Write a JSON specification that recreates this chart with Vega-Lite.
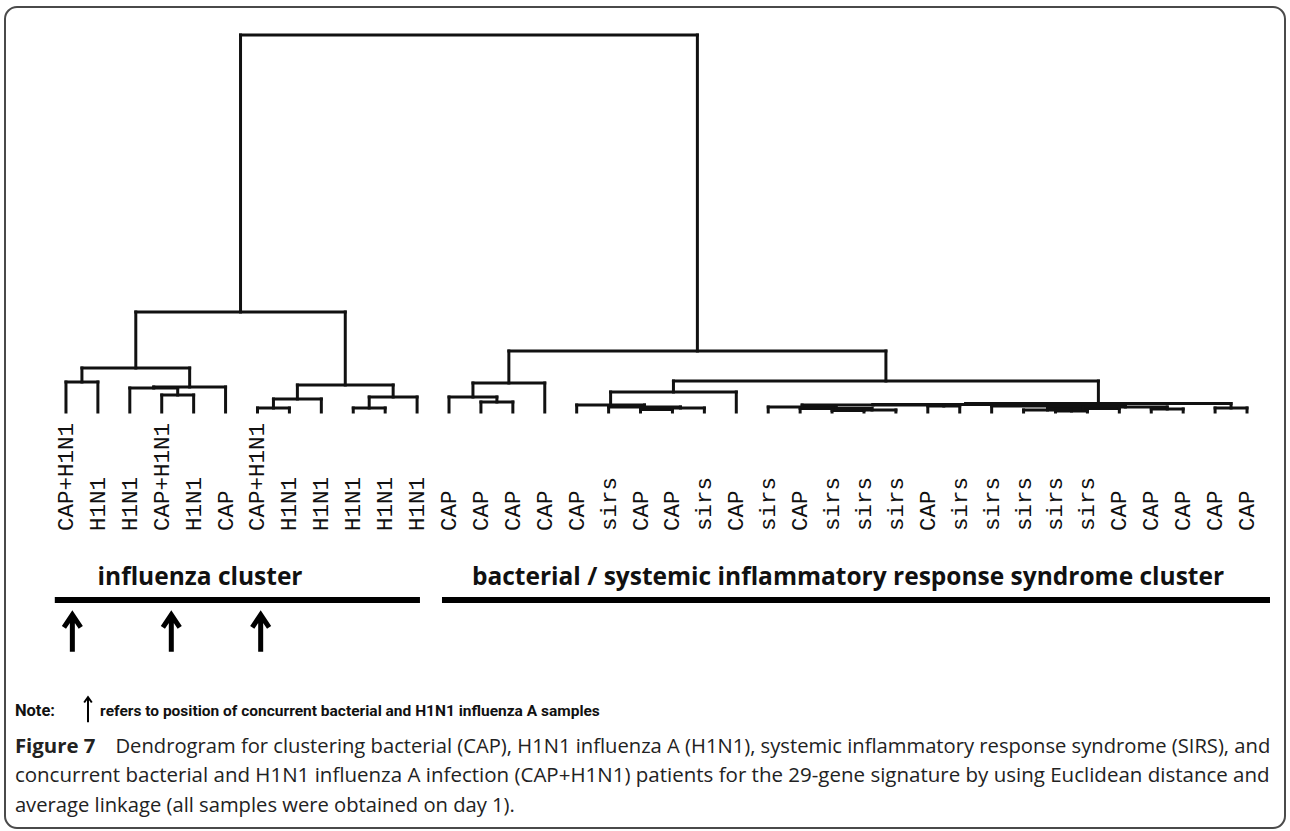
{
  "$schema": "https://vega.github.io/schema/vega-lite/v6.json",
  "width": 1290,
  "height": 831,
  "autosize": {"type": "fit", "contains": "padding"},
  "padding": {"left": 5, "top": 7, "right": 5, "bottom": 3},
  "background": "white",
  "config": {"view": {"stroke": "#4a4a4a", "strokeWidth": 2, "cornerRadius": 12}},
  "datasets": {
    "nodes": [
      {"xl": 0, "xr": 1, "hl": 0, "hr": 0, "h": 3.0},
      {"xl": 3, "xr": 4, "hl": 0, "hr": 0, "h": 1.7},
      {"xl": 2, "xr": 3.5, "hl": 0, "hr": 1.7, "h": 2.4},
      {"xl": 2.75, "xr": 5, "hl": 2.4, "hr": 0, "h": 2.5},
      {"xl": 0.5, "xr": 3.875, "hl": 3.0, "hr": 2.5, "h": 4.4},
      {"xl": 6, "xr": 7, "hl": 0, "hr": 0, "h": 0.4},
      {"xl": 6.5, "xr": 8, "hl": 0.4, "hr": 0, "h": 1.3},
      {"xl": 9, "xr": 10, "hl": 0, "hr": 0, "h": 0.4},
      {"xl": 9.5, "xr": 11, "hl": 0.4, "hr": 0, "h": 1.5},
      {"xl": 7.25, "xr": 10.25, "hl": 1.3, "hr": 1.5, "h": 2.7},
      {"xl": 2.1875, "xr": 8.75, "hl": 4.4, "hr": 2.7, "h": 10.0},
      {"xl": 13, "xr": 14, "hl": 0, "hr": 0, "h": 1.0},
      {"xl": 12, "xr": 13.5, "hl": 0, "hr": 1.0, "h": 1.5},
      {"xl": 12.75, "xr": 15, "hl": 1.5, "hr": 0, "h": 2.9},
      {"xl": 18, "xr": 19, "hl": 0, "hr": 0, "h": 0.25},
      {"xl": 18.5, "xr": 20, "hl": 0.25, "hr": 0, "h": 0.4},
      {"xl": 17, "xr": 19.25, "hl": 0, "hr": 0.4, "h": 0.5},
      {"xl": 16, "xr": 18.125, "hl": 0, "hr": 0.5, "h": 0.7},
      {"xl": 17.0625, "xr": 21, "hl": 0.7, "hr": 0, "h": 2.0},
      {"xl": 24, "xr": 25, "hl": 0, "hr": 0, "h": 0.15},
      {"xl": 24.5, "xr": 26, "hl": 0.15, "hr": 0, "h": 0.2},
      {"xl": 23, "xr": 25.25, "hl": 0, "hr": 0.2, "h": 0.35},
      {"xl": 22, "xr": 24.125, "hl": 0, "hr": 0.35, "h": 0.5},
      {"xl": 27, "xr": 28, "hl": 0, "hr": 0, "h": 0.6},
      {"xl": 23.0625, "xr": 27.5, "hl": 0.5, "hr": 0.6, "h": 0.7},
      {"xl": 31, "xr": 32, "hl": 0, "hr": 0, "h": 0.1},
      {"xl": 30, "xr": 31.5, "hl": 0, "hr": 0.1, "h": 0.2},
      {"xl": 30.75, "xr": 33, "hl": 0.2, "hr": 0, "h": 0.35},
      {"xl": 34, "xr": 35, "hl": 0, "hr": 0, "h": 0.3},
      {"xl": 31.875, "xr": 34.5, "hl": 0.35, "hr": 0.3, "h": 0.5},
      {"xl": 29, "xr": 33.1875, "hl": 0, "hr": 0.5, "h": 0.6},
      {"xl": 25.28125, "xr": 31.09375, "hl": 0.7, "hr": 0.6, "h": 0.75},
      {"xl": 36, "xr": 37, "hl": 0, "hr": 0, "h": 0.4},
      {"xl": 28.1875, "xr": 36.5, "hl": 0.75, "hr": 0.4, "h": 0.85},
      {"xl": 19.03125, "xr": 32.34375, "hl": 2.0, "hr": 0.85, "h": 3.1},
      {"xl": 13.875, "xr": 25.6875, "hl": 2.9, "hr": 3.1, "h": 6.1},
      {"xl": 5.46875, "xr": 19.78125, "hl": 10.0, "hr": 6.1, "h": 37.7}
    ],
    "leaves": [
      {"i": 0, "label": "CAP+H1N1"}, {"i": 1, "label": "H1N1"}, {"i": 2, "label": "H1N1"},
      {"i": 3, "label": "CAP+H1N1"}, {"i": 4, "label": "H1N1"}, {"i": 5, "label": "CAP"},
      {"i": 6, "label": "CAP+H1N1"}, {"i": 7, "label": "H1N1"}, {"i": 8, "label": "H1N1"},
      {"i": 9, "label": "H1N1"}, {"i": 10, "label": "H1N1"}, {"i": 11, "label": "H1N1"},
      {"i": 12, "label": "CAP"}, {"i": 13, "label": "CAP"}, {"i": 14, "label": "CAP"},
      {"i": 15, "label": "CAP"}, {"i": 16, "label": "CAP"}, {"i": 17, "label": "sirs"},
      {"i": 18, "label": "CAP"}, {"i": 19, "label": "CAP"}, {"i": 20, "label": "sirs"},
      {"i": 21, "label": "CAP"}, {"i": 22, "label": "sirs"}, {"i": 23, "label": "CAP"},
      {"i": 24, "label": "sirs"}, {"i": 25, "label": "sirs"}, {"i": 26, "label": "sirs"},
      {"i": 27, "label": "CAP"}, {"i": 28, "label": "sirs"}, {"i": 29, "label": "sirs"},
      {"i": 30, "label": "sirs"}, {"i": 31, "label": "sirs"}, {"i": 32, "label": "sirs"},
      {"i": 33, "label": "CAP"}, {"i": 34, "label": "CAP"}, {"i": 35, "label": "CAP"},
      {"i": 36, "label": "CAP"}, {"i": 37, "label": "CAP"}
    ],
    "clusters": [
      {"text": "influenza cluster", "start": -0.35, "end": 11.09, "mid": 4.2},
      {"text": "bacterial / systemic inflammatory response syndrome cluster", "start": 11.78, "end": 37.72, "mid": 24.5}
    ],
    "arrows": [{"pos": 0.2}, {"pos": 3.3}, {"pos": 6.1}]
  },
  "layer": [
    {
      "data": {"name": "nodes"},
      "mark": {"type": "rule", "stroke": "#111", "strokeWidth": 3, "strokeCap": "square"},
      "encoding": {
        "x": {"field": "xl", "type": "quantitative", "axis": null, "scale": {"domain": [-1.91, 38.19], "nice": false, "zero": false}},
        "x2": {"field": "xr"},
        "y": {"field": "h", "type": "quantitative", "axis": null, "scale": {"domain": [-41.6, 40.5], "nice": false, "zero": false}}
      }
    },
    {
      "data": {"name": "nodes"},
      "mark": {"type": "rule", "stroke": "#111", "strokeWidth": 3, "strokeCap": "square"},
      "encoding": {
        "x": {"field": "xl", "type": "quantitative"},
        "y": {"field": "hl", "type": "quantitative"},
        "y2": {"field": "h"}
      }
    },
    {
      "data": {"name": "nodes"},
      "mark": {"type": "rule", "stroke": "#111", "strokeWidth": 3, "strokeCap": "square"},
      "encoding": {
        "x": {"field": "xr", "type": "quantitative"},
        "y": {"field": "hr", "type": "quantitative"},
        "y2": {"field": "h"}
      }
    },
    {
      "data": {"name": "leaves"},
      "mark": {"type": "text", "angle": 270, "align": "left", "baseline": "middle", "font": "Liberation Mono", "fontSize": 22.5, "color": "#111"},
      "encoding": {
        "x": {"field": "i", "type": "quantitative"},
        "y": {"datum": -11.9, "type": "quantitative"},
        "text": {"field": "label"}
      }
    },
    {
      "data": {"name": "clusters"},
      "mark": {"type": "text", "align": "center", "baseline": "middle", "font": "Open Sans", "fontWeight": "bold", "fontSize": 24.5, "color": "#111"},
      "encoding": {
        "x": {"field": "mid", "type": "quantitative"},
        "y": {"datum": -16.6, "type": "quantitative"},
        "text": {"field": "text"}
      }
    },
    {
      "data": {"name": "clusters"},
      "mark": {"type": "rule", "stroke": "#000", "strokeWidth": 6},
      "encoding": {
        "x": {"field": "start", "type": "quantitative"},
        "x2": {"field": "end"},
        "y": {"datum": -18.8, "type": "quantitative"}
      }
    },
    {
      "data": {"name": "arrows"},
      "mark": {"type": "point", "shape": "M0,1L0,-0.95M-0.45,-0.3L0,-0.97L0.45,-0.3", "filled": false, "stroke": "#000", "strokeWidth": 5, "size": 1400, "opacity": 1},
      "encoding": {
        "x": {"field": "pos", "type": "quantitative"},
        "y": {"datum": -22.1, "type": "quantitative"}
      }
    },
    {
      "data": {"values": [{"text": "Note:"}]},
      "mark": {"type": "text", "align": "left", "baseline": "middle", "font": "Roboto", "fontWeight": "bold", "fontSize": 16.5, "color": "#111"},
      "encoding": {
        "x": {"datum": -1.6, "type": "quantitative"},
        "y": {"datum": -29.9, "type": "quantitative"},
        "text": {"field": "text"}
      }
    },
    {
      "data": {"values": [{"text": "refers to position of concurrent bacterial and H1N1 influenza A samples"}]},
      "mark": {"type": "text", "align": "left", "baseline": "middle", "font": "Roboto", "fontWeight": "bold", "fontSize": 15.5, "color": "#111"},
      "encoding": {
        "x": {"datum": 1.07, "type": "quantitative"},
        "y": {"datum": -29.9, "type": "quantitative"},
        "text": {"field": "text"}
      }
    },
    {
      "data": {"values": [{"marker": "note arrow"}]},
      "mark": {"type": "point", "shape": "M0,1L0,-0.95M-0.3,-0.55L0,-0.97L0.3,-0.55", "filled": false, "stroke": "#000", "strokeWidth": 2, "size": 650, "opacity": 1},
      "encoding": {
        "x": {"datum": 0.69, "type": "quantitative"},
        "y": {"datum": -29.75, "type": "quantitative"}
      }
    },
    {
      "data": {"values": [{"text": "Figure 7"}]},
      "mark": {"type": "text", "align": "left", "baseline": "middle", "font": "Open Sans", "fontWeight": "bold", "fontSize": 20.4, "color": "#222"},
      "encoding": {
        "x": {"datum": -1.6, "type": "quantitative"},
        "y": {"datum": -33.5, "type": "quantitative"},
        "text": {"field": "text"}
      }
    },
    {
      "data": {"values": [{"text": "Dendrogram for clustering bacterial (CAP), H1N1 influenza A (H1N1), systemic inflammatory response syndrome (SIRS), and"}]},
      "mark": {"type": "text", "align": "left", "baseline": "middle", "font": "Open Sans", "fontSize": 20.2, "color": "#222"},
      "encoding": {
        "x": {"datum": 1.55, "type": "quantitative"},
        "y": {"datum": -33.5, "type": "quantitative"},
        "text": {"field": "text"}
      }
    },
    {
      "data": {"values": [{"text": "concurrent bacterial and H1N1 influenza A infection (CAP+H1N1) patients for the 29-gene signature by using Euclidean distance and"}]},
      "mark": {"type": "text", "align": "left", "baseline": "middle", "font": "Open Sans", "fontSize": 20.5, "color": "#222"},
      "encoding": {
        "x": {"datum": -1.6, "type": "quantitative"},
        "y": {"datum": -36.4, "type": "quantitative"},
        "text": {"field": "text"}
      }
    },
    {
      "data": {"values": [{"text": "average linkage (all samples were obtained on day 1)."}]},
      "mark": {"type": "text", "align": "left", "baseline": "middle", "font": "Open Sans", "fontSize": 20.2, "color": "#222"},
      "encoding": {
        "x": {"datum": -1.6, "type": "quantitative"},
        "y": {"datum": -39.4, "type": "quantitative"},
        "text": {"field": "text"}
      }
    }
  ]
}
